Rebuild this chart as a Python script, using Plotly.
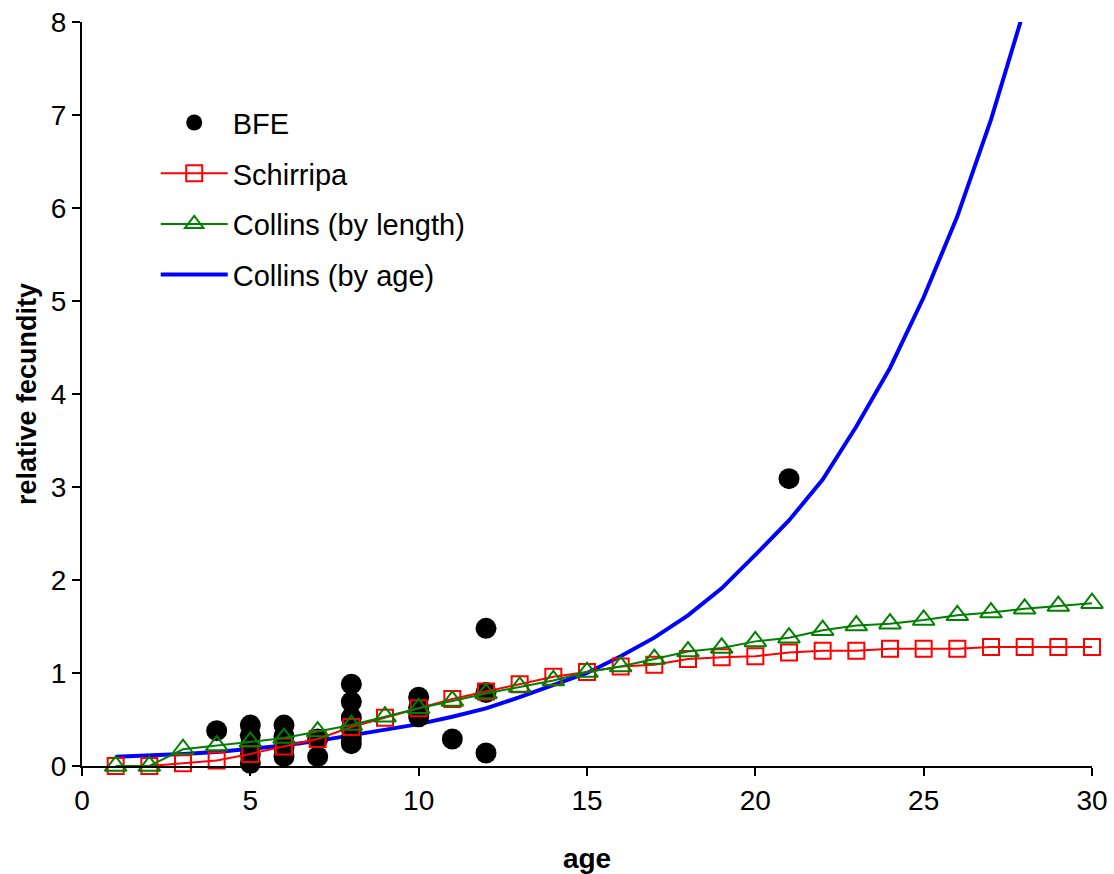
import plotly.graph_objects as go

# ---- data ----
bfe_age = [4, 5, 5, 5, 5, 5, 6, 6, 6, 6, 7, 7, 8, 8, 8, 8, 8, 8, 10, 10, 10, 11, 12, 12, 12, 21]
bfe_val = [0.38, 0.44, 0.33, 0.22, 0.12, 0.03, 0.44, 0.32, 0.20, 0.10, 0.29, 0.10,
           0.88, 0.69, 0.52, 0.40, 0.30, 0.24, 0.74, 0.63, 0.53, 0.29, 1.48, 0.79, 0.14, 3.09]

ages = list(range(1, 31))
schirripa = [0.00, 0.00, 0.03, 0.06, 0.13, 0.21, 0.29, 0.42, 0.52, 0.62,
             0.72, 0.80, 0.88, 0.96, 1.01, 1.07, 1.09, 1.15, 1.17, 1.18,
             1.22, 1.24, 1.24, 1.26, 1.26, 1.26, 1.28, 1.28, 1.28, 1.28]
collins_len = [0.00, 0.00, 0.18, 0.22, 0.26, 0.30, 0.37, 0.44, 0.53, 0.62,
               0.70, 0.78, 0.85, 0.92, 1.01, 1.07, 1.15, 1.23, 1.27, 1.34,
               1.38, 1.46, 1.51, 1.53, 1.57, 1.62, 1.65, 1.69, 1.72, 1.75]
age_ages = list(range(1, 29))
collins_age = [0.10, 0.11, 0.13, 0.15, 0.18, 0.22, 0.27, 0.33, 0.39, 0.45,
               0.53, 0.62, 0.74, 0.87, 1.00, 1.18, 1.38, 1.62, 1.91, 2.27,
               2.64, 3.08, 3.65, 4.28, 5.04, 5.91, 6.95, 8.15]

FONT = "Liberation Sans, Arial, sans-serif"

fig = go.Figure()
fig.add_trace(go.Scatter(x=age_ages, y=collins_age, mode="lines", name="Collins (by age)",
                         line=dict(color="#0000FF", width=4), legendrank=4,
                         legendgroup="d"))
fig.add_trace(go.Scatter(x=bfe_age, y=bfe_val, mode="markers", name="BFE",
                         marker=dict(symbol="circle", size=21, color="black"),
                         cliponaxis=False, legendrank=1, legendgroup="a"))
fig.add_trace(go.Scatter(x=ages, y=schirripa, mode="lines+markers", name="Schirripa",
                         line=dict(color="#FF0000", width=2),
                         marker=dict(symbol="square-open", size=16, color="#FF0000",
                                     line=dict(width=2, color="#FF0000")),
                         cliponaxis=False, legendrank=2, legendgroup="b"))
fig.add_trace(go.Scatter(x=ages, y=collins_len, mode="lines+markers", name="Collins (by length)",
                         line=dict(color="#008000", width=2),
                         marker=dict(symbol="triangle-up-open", size=19, color="#008000",
                                     line=dict(width=2, color="#008000")),
                         cliponaxis=False, legendrank=3, legendgroup="c"))

fig.update_layout(
    width=1114, height=874,
    margin=dict(l=82, r=22, t=22, b=108, autoexpand=False),
    paper_bgcolor="white", plot_bgcolor="white",
    font=dict(family=FONT, size=28, color="black"),
    showlegend=True,
    legend=dict(x=0.073, y=0.899, xanchor="left", yanchor="top",
                bgcolor="rgba(0,0,0,0)", borderwidth=0,
                font=dict(family=FONT, size=29, color="black"),
                traceorder="grouped", tracegroupgap=10, itemwidth=67),
    xaxis=dict(range=[0, 30], tickmode="linear", tick0=0, dtick=5, automargin=False,
               showgrid=False, zeroline=False, showline=True, linecolor="black",
               linewidth=2, ticks="outside", ticklen=8, tickwidth=2, tickcolor="black",
               tickfont=dict(size=28),
               title=dict(text="<b>age</b>", font=dict(size=28), standoff=36)),
    yaxis=dict(range=[0, 8], tickmode="linear", tick0=0, dtick=1, automargin=False,
               showgrid=False, zeroline=False, showline=True, linecolor="black",
               linewidth=2, ticks="outside", ticklen=8, tickwidth=2, tickcolor="black",
               tickfont=dict(size=28),
               title=dict(text="<b>relative fecundity</b>", font=dict(size=27), standoff=6)),
)

fig.write_html("out.html")
